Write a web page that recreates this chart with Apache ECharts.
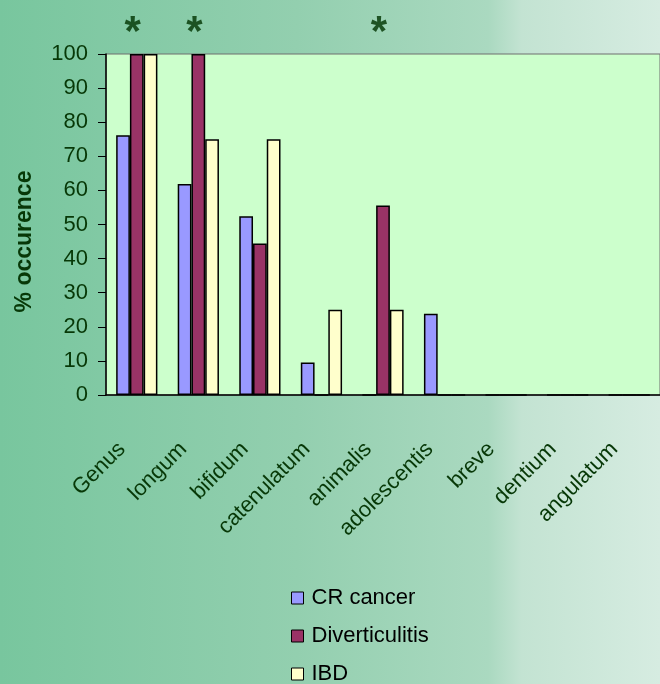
<!DOCTYPE html>
<html>
<head>
<meta charset="utf-8">
<script src="https://cdn.jsdelivr.net/npm/echarts@6/dist/echarts.min.js"></script>
<style>
  html, body { margin: 0; padding: 0; }
  #chart { width: 660px; height: 684px; }
</style>
</head>
<body>
<div id="chart"></div>
<script>
// species on the x axis
var categories = ['Genus', 'longum', 'bifidum', 'catenulatum', 'animalis', 'adolescentis', 'breve', 'dentium', 'angulatum'];
// % occurence per group
var crCancer = [76.2, 61.9, 52.4, 9.5, 0, 23.8, 0, 0, 0];
var diverticulitis = [100, 100, 44.4, 0, 55.6, 0, 0, 0, 0];
var ibd = [100, 75, 75, 25, 25, 0, 0, 0, 0];
// significance marks shown above the bars
var significance = ['*', '*', '', '', '*', '', '', '', ''];
var yTicks = [0, 10, 20, 30, 40, 50, 60, 70, 80, 90, 100];

var textGreen = '#073807';
var starLevel = 106; // where the stars sit, in axis units

var chart = echarts.init(document.getElementById('chart'));

function barSeries(name, data, color) {
    return {
        name: name,
        type: 'bar',
        data: data,
        barGap: '0%',
        barCategoryGap: '33%',
        itemStyle: { color: color, borderColor: '#000', borderWidth: 1.5 }
    };
}

var starData = significance.map(function(s) {
    return s ? starLevel : null;
});

chart.setOption({
    backgroundColor: {
        type: 'linear', x: 0, y: 0, x2: 1, y2: 0,
        colorStops: [
            { offset: 0, color: '#78C69E' },
            { offset: 0.45, color: '#93CFAF' },
            { offset: 0.74, color: '#AAD9C0' },
            { offset: 0.79, color: '#C3E3D2' },
            { offset: 1, color: '#D6ECE1' }
        ]
    },
    animation: false,
    grid: {
        left: 106, top: 54, width: 562, height: 341,
        show: true, backgroundColor: '#CCFFCC', borderColor: '#6E6E6E', borderWidth: 1
    },
    xAxis: {
        type: 'category',
        data: categories,
        axisLine: { lineStyle: { color: '#000', width: 1.5 } },
        axisTick: { length: 8, lineStyle: { color: '#333' } },
        axisLabel: {
            rotate: 45,
            interval: 0,
            margin: 36,
            padding: [0, 21, 0, 0],
            color: textGreen,
            fontFamily: 'Liberation Sans, Arial',
            fontSize: 22
        }
    },
    yAxis: {
        type: 'value',
        min: yTicks[0],
        max: yTicks[yTicks.length - 1],
        interval: 10,
        splitLine: { show: false },
        axisLine: { show: true, lineStyle: { color: '#000', width: 1.5 } },
        axisTick: { show: true, length: 8, lineStyle: { color: '#000' } },
        axisLabel: { margin: 18, color: textGreen, fontFamily: 'Liberation Sans, Arial', fontSize: 22 },
        name: '% occurence',
        nameLocation: 'middle',
        nameGap: 70,
        nameTextStyle: {
            color: textGreen, fontWeight: 'bold', fontFamily: 'Liberation Sans, Arial', fontSize: 23,
            padding: [0, 34, 0, 0]
        }
    },
    legend: {
        data: ['CR cancer', 'Diverticulitis', 'IBD'],
        orient: 'vertical',
        left: 291,
        top: 587,
        height: 120,
        padding: 0,
        itemWidth: 12,
        itemHeight: 12,
        itemGap: 16,
        icon: 'rect',
        itemStyle: { borderColor: '#000', borderWidth: 1 },
        textStyle: {
            color: '#000', fontFamily: 'Liberation Sans, Arial', fontSize: 22,
            lineHeight: 22, padding: [0, 0, 0, 3]
        }
    },
    series: [
        barSeries('CR cancer', crCancer, '#9999FF'),
        barSeries('Diverticulitis', diverticulitis, '#993366'),
        barSeries('IBD', ibd, '#FFFFCC'),
        {
            name: 'sig',
            type: 'scatter',
            data: starData,
            clip: false,
            symbolSize: 1,
            itemStyle: { color: 'transparent' },
            label: {
                show: true,
                position: 'inside',
                offset: [-4, 0],
                formatter: function(p) { return significance[p.dataIndex]; },
                color: '#003300',
                fontWeight: 'bold',
                fontFamily: 'Liberation Sans, Arial',
                fontSize: 42
            }
        }
    ]
});
</script>
</body>
</html>
